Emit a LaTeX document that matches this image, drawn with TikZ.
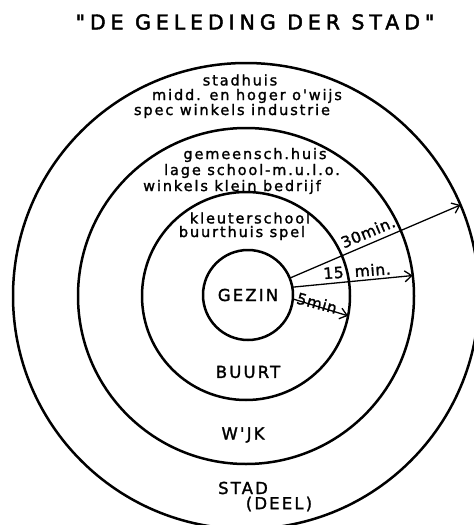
\documentclass[tikz,border=0pt]{standalone}
\usepackage{fontspec}
\setmainfont{DejaVu Sans}
\newfontfamily\stencil[LetterSpace=13,FakeBold=1.6]{DejaVu Sans}
\newfontfamily\stijd[LetterSpace=4,FakeBold=1.6]{DejaVu Sans}
\newfontfamily\titelfont[LetterSpace=24,FakeBold=2.2]{DejaVu Sans}
\usetikzlibrary{arrows.meta}

\begin{document}
\begin{tikzpicture}[x=1pt,y=-1pt,>={Straight Barb[length=7pt,width=11pt]},
  ring/.style={draw,circle,line width=2.5pt,inner sep=0pt,outer sep=0pt},
  lbl/.style={font=\stencil\fontsize{14.5}{16}\selectfont,inner sep=0pt},
  caps/.style={font=\stencil\fontsize{16.5}{19}\selectfont,inner sep=0pt},
  tijd/.style={font=\stijd\fontsize{15.5}{17}\selectfont,inner sep=0pt},
  pijl/.style={->,line width=1.3pt}]
\useasboundingbox (0,0) rectangle (474,525);
\node[font=\titelfont\fontsize{20.5}{24}\selectfont] (titel) at (255,22) {"DE GELEDING DER STAD"};
% ringen
\node[ring,minimum size=466pt] (stad) at (246,296) {};
\node[ring,minimum size=336pt] (wijk) at (246,296) {};
\node[ring,minimum size=208pt] (buurt) at (246,296) {};
\node[ring,caps,minimum size=90pt] (gezin) at (248,295) {GEZIN};
% voorzieningen
\node[lbl] (s1) at (240,80) {stadhuis};
\node[lbl] (s2) at (247,96) {midd. en hoger o'wijs};
\node[lbl] (s3) at (232,111) {spec winkels\ industrie};
\node[lbl] (w1) at (255,155) {gemeensch.huis};
\node[lbl] (w2) at (252,171) {lage school-m.u.l.o.};
\node[lbl] (w3) at (232,187) {winkels\ klein bedrijf};
\node[lbl] (b1) at (250,218) {kleuterschool};
\node[lbl] (b2) at (242,233) {buurthuis spel};
% namen
\node[caps] (nbuurt) at (248,372) {BUURT};
\node[caps] (nwijk) at (243,435) {W'JK};
\node[caps] (nstad) at (243,488) {STAD};
\node[caps] (ndeel) at (279,504) {(DEEL)};
% afstanden
\draw[pijl] (gezin.22) -- (stad.23);
\draw[pijl] (gezin.10) -- (wijk.7);
\draw[pijl] (gezin.-5) -- (buurt.-11);
\node[tijd,rotate=23] (t30) at (368,232) {30min.};
\node[tijd,rotate=4] (t15) at (357,271) {15\ \ min.};
\node[tijd,rotate=-15] (t5) at (317,303) {5min};
\end{tikzpicture}
\end{document}
